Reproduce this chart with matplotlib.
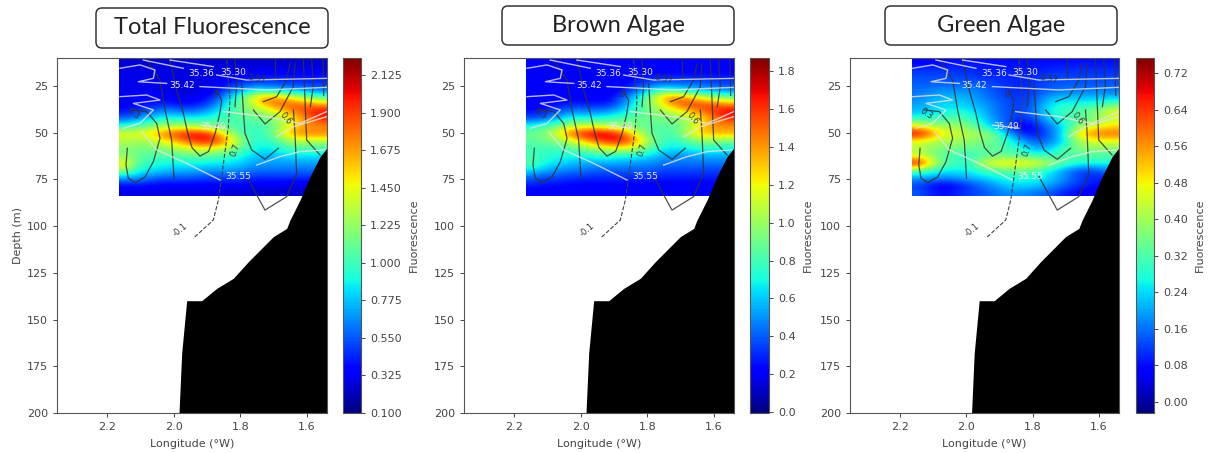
# Fluorescence sections with salinity / velocity contours and bottom topography

import matplotlib
matplotlib.use("Agg")
import numpy as np
import matplotlib.pyplot as plt
from matplotlib.cm import ScalarMappable
from matplotlib.colors import Normalize
from matplotlib.patches import FancyBboxPatch

W, H = 1210, 453
TEXT = "#444444"

# Rows run from 10 m to 84 m, columns from 2.16 W to 1.54 W
total_fluo = [
    [.25, .25, .25, .25, .25, .25, .25, .25, .25, .25, .25, .25, .25, .25, .25, .25],
    [.28, .28, .28, .28, .28, .28, .28, .28, .28, .28, .28, .28, .28, .28, .28, .28],
    [.30, .30, .30, .30, .30, .28, .28, .28, .30, .35, .38, .40, .40, .40, .40, .40],
    [.30, .30, .30, .30, .28, .28, .28, .30, .40, .45, .50, .50, .48, .45, .45, .45],
    [.30, .30, .30, .30, .28, .25, .30, .35, .55, .70, .85, .80, .75, .70, .65, .60],
    [.32, .32, .35, .35, .30, .30, .35, .50, .80, 1.1, 1.55, 1.75, 1.6, 1.4, 1.2, 1.05],
    [.35, .35, .40, .45, .40, .40, .45, .65, .95, 1.15, 1.4, 1.7, 1.85, 1.85, 1.8, 1.7],
    [.40, .50, .60, .70, .65, .60, .70, .85, 1.0, 1.1, 1.2, 1.3, 1.5, 1.75, 1.9, 2.05],
    [.60, .70, .85, .95, .95, .95, .95, 1.0, 1.05, 1.05, 1.1, 1.15, 1.3, 1.5, 1.75, 1.95],
    [1.0, 1.1, 1.2, 1.3, 1.3, 1.3, 1.2, 1.15, 1.05, 1.0, 1.0, 1.05, 1.25, 1.55, 1.7, 1.7],
    [1.45, 1.45, 1.55, 1.8, 1.95, 2.05, 2.05, 1.75, 1.3, 1.05, .95, 1.05, 1.4, 1.7, 1.75, 1.75],
    [1.3, 1.25, 1.3, 1.45, 1.65, 1.85, 2.0, 1.95, 1.6, 1.2, .95, .95, 1.1, 1.3, 1.3, 1.3],
    [1.2, 1.15, 1.15, 1.2, 1.3, 1.4, 1.45, 1.4, 1.25, 1.05, .90, .85, .95, 1.05, 1.05, 1.0],
    [1.2, 1.1, 1.05, 1.05, 1.05, 1.1, 1.1, 1.05, 1.0, .90, .80, .75, .80, .85, .85, .85],
    [1.5, 1.05, .95, .90, .90, .90, .90, .85, .85, .80, .70, .70, .70, .70, .70, .70],
    [1.25, .90, .85, .80, .75, .75, .70, .70, .70, .65, .60, .60, .60, .60, .60, .60],
    [.70, .70, .60, .55, .55, .55, .50, .50, .50, .50, .45, .45, .45, .45, .45, .45],
    [.40, .40, .38, .35, .35, .35, .35, .35, .35, .35, .32, .32, .32, .30, .30, .30],
    [.28, .28, .28, .28, .28, .28, .28, .28, .25, .25, .25, .25, .25, .25, .25, .25],
]
brown_fluo = [
    [.20, .20, .20, .20, .20, .20, .20, .20, .20, .20, .20, .20, .20, .20, .20, .20],
    [.20, .20, .20, .20, .20, .20, .20, .20, .20, .20, .20, .20, .20, .20, .20, .20],
    [.20, .20, .20, .20, .20, .20, .20, .20, .22, .25, .25, .25, .25, .25, .25, .25],
    [.20, .20, .20, .20, .20, .20, .20, .20, .30, .35, .40, .40, .40, .40, .35, .35],
    [.20, .20, .20, .20, .20, .18, .20, .25, .40, .60, .75, .70, .60, .55, .50, .45],
    [.20, .20, .20, .20, .20, .20, .22, .40, .65, .95, 1.35, 1.5, 1.35, 1.15, 1.0, .90],
    [.20, .20, .25, .30, .28, .28, .30, .50, .75, .95, 1.2, 1.45, 1.6, 1.6, 1.55, 1.45],
    [.25, .30, .40, .50, .50, .48, .55, .65, .80, .90, 1.0, 1.1, 1.25, 1.45, 1.6, 1.75],
    [.40, .45, .60, .75, .75, .75, .80, .85, .90, .90, .90, .95, 1.05, 1.2, 1.45, 1.6],
    [.75, .85, .95, 1.1, 1.15, 1.15, 1.05, 1.0, .90, .85, .85, .85, 1.0, 1.3, 1.4, 1.4],
    [.90, .95, 1.2, 1.55, 1.7, 1.8, 1.75, 1.55, 1.15, .90, .80, .85, 1.1, 1.3, 1.35, 1.35],
    [.85, .90, .95, 1.1, 1.3, 1.5, 1.65, 1.65, 1.4, 1.0, .80, .75, .85, .95, .95, .90],
    [.80, .80, .80, .85, .95, 1.05, 1.15, 1.15, 1.05, .85, .70, .65, .70, .75, .75, .70],
    [.80, .75, .70, .70, .70, .75, .75, .70, .70, .65, .55, .50, .50, .55, .55, .55],
    [.85, .70, .65, .60, .55, .55, .55, .55, .50, .50, .45, .45, .45, .45, .45, .45],
    [.65, .55, .50, .45, .45, .40, .40, .40, .40, .40, .35, .35, .35, .35, .35, .35],
    [.40, .35, .35, .32, .30, .30, .30, .30, .30, .30, .28, .28, .28, .28, .28, .28],
    [.28, .25, .25, .22, .22, .22, .22, .22, .20, .20, .20, .20, .20, .20, .20, .20],
    [.20, .20, .20, .20, .20, .20, .20, .20, .20, .20, .20, .20, .20, .20, .20, .20],
]
green_fluo = [
    [.06, .06, .07, .08, .08, .08, .08, .08, .08, .08, .08, .08, .08, .08, .08, .08],
    [.10, .10, .10, .10, .10, .09, .09, .09, .09, .09, .09, .10, .10, .10, .10, .10],
    [.13, .13, .13, .12, .12, .10, .10, .10, .10, .10, .12, .12, .12, .12, .12, .12],
    [.14, .14, .14, .14, .14, .13, .12, .10, .10, .12, .13, .14, .14, .14, .14, .14],
    [.16, .17, .18, .18, .18, .16, .13, .11, .10, .12, .14, .16, .16, .16, .16, .16],
    [.17, .20, .22, .22, .20, .17, .14, .12, .11, .14, .20, .22, .22, .22, .22, .22],
    [.20, .22, .24, .24, .22, .20, .16, .13, .12, .16, .24, .28, .28, .28, .30, .34],
    [.22, .24, .26, .28, .26, .22, .16, .13, .12, .18, .26, .30, .32, .36, .40, .48],
    [.30, .30, .32, .34, .30, .24, .18, .13, .10, .14, .22, .30, .32, .34, .38, .44],
    [.50, .42, .40, .40, .36, .28, .20, .12, .05, .08, .16, .22, .34, .44, .48, .50],
    [.70, .60, .48, .44, .42, .40, .34, .20, .10, .08, .14, .24, .44, .56, .60, .60],
    [.46, .42, .40, .40, .38, .36, .34, .28, .20, .14, .16, .22, .36, .44, .46, .46],
    [.42, .38, .36, .36, .34, .34, .34, .30, .28, .20, .22, .30, .36, .38, .38, .38],
    [.44, .38, .32, .30, .30, .32, .34, .34, .32, .30, .30, .32, .32, .32, .32, .32],
    [.70, .48, .34, .30, .30, .44, .50, .50, .50, .48, .42, .34, .30, .28, .28, .28],
    [.34, .30, .26, .26, .26, .30, .32, .34, .34, .32, .26, .20, .14, .12, .14, .18],
    [.20, .20, .18, .20, .22, .24, .26, .28, .28, .28, .24, .20, .14, .10, .10, .12],
    [.12, .08, .06, .08, .12, .16, .20, .24, .24, .24, .20, .16, .12, .10, .08, .06],
    [.14, .10, .08, .10, .12, .14, .16, .18, .18, .16, .14, .10, .08, .05, .05, .05],
]

titles = ["Total Fluorescence", "Brown Algae", "Green Algae"]
fluo_data = [total_fluo, brown_fluo, green_fluo]
color_ranges = [(0.1, 2.227), (-0.005, 1.87), (-0.024, 0.753)]
cbar_ticks = [
    [0.1, 0.325, 0.55, 0.775, 1.0, 1.225, 1.45, 1.675, 1.9, 2.125],
    [0.0, 0.2, 0.4, 0.6, 0.8, 1.0, 1.2, 1.4, 1.6, 1.8],
    [0.0, 0.08, 0.16, 0.24, 0.32, 0.40, 0.48, 0.56, 0.64, 0.72],
]
cbar_formats = ["%.3f", "%.1f", "%.2f"]

depth_ticks = [25, 50, 75, 100, 125, 150, 175, 200]
lon_ticks = [2.2, 2.0, 1.8, 1.6]

# Bottom topography
bottom_lon = [1.54, 1.541, 1.561, 1.591, 1.621, 1.651, 1.661, 1.701, 1.776, 1.821, 1.871, 1.916, 1.961, 1.976, 1.984]
bottom_depth = [58, 58.3, 62.8, 73.5, 86, 96.7, 101.2, 105.6, 119, 127.9, 133.3, 139.9, 139.9, 168, 200]

# Velocity contours (lon, depth)
velocity_a = ([2.126, 2.081, 2.051, 2.041, 2.061, 2.086, 2.116, 2.136, 2.143, 2.139], [37.8, 38.7, 45, 53, 65.5, 73.7, 76.7, 74.4, 67.3, 58.3])
velocity_b = ([2.081, 2.041, 2.026, 2.006, 1.999], [11.1, 21.8, 37.8, 53.9, 74.4])
velocity_c = ([2.011, 1.991, 1.971, 1.958, 1.945, 1.921, 1.895, 1.875, 1.862, 1.856, 1.871], [11.1, 27.1, 39.6, 50, 58, 62.5, 60, 50, 40, 33, 27.1])
velocity_d = ([1.816, 1.811, 1.816], [11.1, 23.6, 36])
velocity_e = ([1.796, 1.791, 1.786, 1.766, 1.726, 1.686], [23.6, 38, 50.3, 59.2, 64.2, 58.3])
velocity_f = ([1.781, 1.726, 1.661, 1.631, 1.636, 1.641], [73.5, 91.4, 84.2, 71.7, 50.3, 37.8])
velocity_g = ([1.761, 1.726, 1.681, 1.641, 1.636], [37.8, 45.3, 38.7, 25.3, 12.9])
velocity_h = ([1.731, 1.691, 1.661, 1.651], [33.4, 30.7, 21.8, 12.9])
velocity_i = ([1.611, 1.606, 1.601, 1.561], [11.1, 32.5, 53.9, 61.9])
velocity_j = ([1.696, 1.696], [11.1, 21.8])
velocity_k = ([1.586, 1.581, 1.590], [11.1, 25, 36])
velocity_l = ([1.552, 1.550], [11.1, 30])
velocity_lines = [velocity_a, velocity_b, velocity_c, velocity_d, velocity_e, velocity_f,
                  velocity_g, velocity_h, velocity_i, velocity_j, velocity_k, velocity_l]
velocity_neg = ([1.841, 1.831, 1.836, 1.856, 1.866, 1.881, 1.941], [11.1, 32.5, 46.8, 73.5, 86, 96.7, 106.5])

# Salinity contours (lon, depth)
salinity_a = ([2.091, 1.971], [11.1, 15.5])
salinity_b = ([2.011, 1.881], [11.1, 14.6])
salinity_c = ([2.161, 2.101, 2.056, 2.061, 2.106, 2.021], [15.5, 13.7, 16.4, 20.9, 22.7, 23.6])
salinity_d = ([2.161, 2.081, 2.041, 2.121, 2.061, 2.101, 2.151], [30.7, 29.8, 32.5, 34.3, 37.8, 45, 47.6])
salinity_e = ([2.096, 2.051, 1.961, 1.861], [49.4, 59.2, 66.4, 75.3])
salinity_f = ([1.921, 1.821, 1.721, 1.541], [25.3, 26.2, 27.1, 25.7])
salinity_g = ([1.871, 1.781, 1.541], [19.1, 21.8, 20.9])
salinity_h = ([1.851, 1.721, 1.621, 1.541], [38.7, 41.4, 45, 38.7])
salinity_i = ([1.691, 1.641, 1.541], [52.1, 46.8, 41.4])
salinity_j = ([1.751, 1.681, 1.621, 1.546], [67.3, 62.8, 60.1, 59.2])
salinity_k = ([1.921, 1.841], [45.9, 47.6])
salinity_lines = [salinity_a, salinity_b, salinity_c, salinity_d, salinity_e, salinity_f,
                  salinity_g, salinity_h, salinity_i, salinity_j, salinity_k]

# Contour labels: text, lon, depth, rotation
salinity_labels = [("35.36", 1.916, 18.2, 0), ("35.30", 1.821, 17.8, 0), ("35.42", 1.976, 24.5, 0),
                   ("35.55", 1.806, 73.5, 0), ("35.49", 1.881, 46.8, 0)]
velocity_labels = [("0.3", 2.121, 39.6, -35), ("0.7", 1.816, 59.2, 70), ("0.6", 1.663, 42.3, -50),
                   ("0", 1.876, 29.4, 0), ("0.57", 1.751, 21.4, -10), ("-0.1", 1.981, 102, 40)]

# Pixel layout: axes left/right, colorbar left/right, title box left/top/right/bottom
axes_px = [(57, 327), (464, 734), (850, 1119)]
cbar_px = [(343, 361), (750, 769), (1136, 1154)]
title_px = [(96, 8, 328, 48), (502, 6, 734, 45), (885, 6, 1117, 45)]
AX_TOP, AX_BOTTOM = 58, 413


def px_axes(left, right, top, bottom):
    """Adds an axes from pixel positions measured from the top left."""
    return fig.add_axes([left / W, 1 - bottom / H, (right - left) / W, (bottom - top) / H])


def draw_title_box(text, box):
    """Draws a title inside its rounded box, in figure pixels."""
    left, top, right, bottom = box
    patch = FancyBboxPatch((left + 6, H - bottom + 6), right - left - 12, bottom - top - 12,
                           boxstyle="round,pad=6,rounding_size=6", transform=None,
                           facecolor="white", edgecolor="#333333", linewidth=1.1)
    fig.add_artist(patch)
    fig.text((left + right) / 2 / W, 1 - (top + bottom) / 2 / H, text, fontsize=17,
             family="Lato", color="#222222", ha="center", va="center")


def draw_panel(i):
    """Draws one section with its contours, bottom and colorbar."""
    ax = px_axes(axes_px[i][0], axes_px[i][1], AX_TOP, AX_BOTTOM)
    vmin, vmax = color_ranges[i]

    ax.imshow(np.array(fluo_data[i]), cmap="jet", vmin=vmin, vmax=vmax, aspect="auto",
              interpolation="bicubic", extent=(2.164, 1.54, 84, 10), zorder=1)

    for lon, depth in velocity_lines:
        ax.plot(lon, depth, color="#333333", linewidth=0.9, alpha=0.85, zorder=3)
    ax.plot(velocity_neg[0], velocity_neg[1], color="#444444", linewidth=0.8, linestyle="--", zorder=3)
    for lon, depth in salinity_lines:
        ax.plot(lon, depth, color="#e4e4e4", linewidth=1.0, alpha=0.8, zorder=3)

    for text, lon, depth, rot in salinity_labels:
        ax.text(lon, depth, text, color="#e8e8e8", fontsize=6.5, ha="center", va="center", zorder=4)
    for text, lon, depth, rot in velocity_labels:
        ax.text(lon, depth, text, color="#333333", fontsize=6, rotation=rot,
                ha="center", va="center", zorder=4)

    ax.fill_between(bottom_lon, bottom_depth, 200, color="black", linewidth=0, zorder=5)

    ax.set_xlim(2.35, 1.54)
    ax.set_ylim(200, 10)
    ax.set_xticks(lon_ticks)
    ax.set_yticks(depth_ticks)
    ax.set_xlabel("Longitude (°W)", fontsize=8, color=TEXT, labelpad=5)
    if i == 0:
        ax.set_ylabel("Depth (m)", fontsize=8, color=TEXT, labelpad=3)
    ax.tick_params(labelsize=8, colors=TEXT, length=3, width=0.7)
    for spine in ax.spines.values():
        spine.set_color("#555555")
        spine.set_linewidth(0.8)
        spine.set_zorder(6)

    cax = px_axes(cbar_px[i][0], cbar_px[i][1], AX_TOP, AX_BOTTOM)
    sm = ScalarMappable(norm=Normalize(vmin, vmax), cmap="jet")
    cbar = fig.colorbar(sm, cax=cax, ticks=cbar_ticks[i], format=cbar_formats[i])
    cbar.set_label("Fluorescence", fontsize=8, color=TEXT, labelpad=5)
    cbar.ax.tick_params(labelsize=8, colors=TEXT, length=3, width=0.7)
    cbar.outline.set_edgecolor("#555555")
    cbar.outline.set_linewidth(0.8)

    draw_title_box(titles[i], title_px[i])


fig = plt.figure(figsize=(W / 100, H / 100), dpi=100, facecolor="white")
for i in range(3):
    draw_panel(i)

fig.savefig("out.png", dpi=100, facecolor="white")
